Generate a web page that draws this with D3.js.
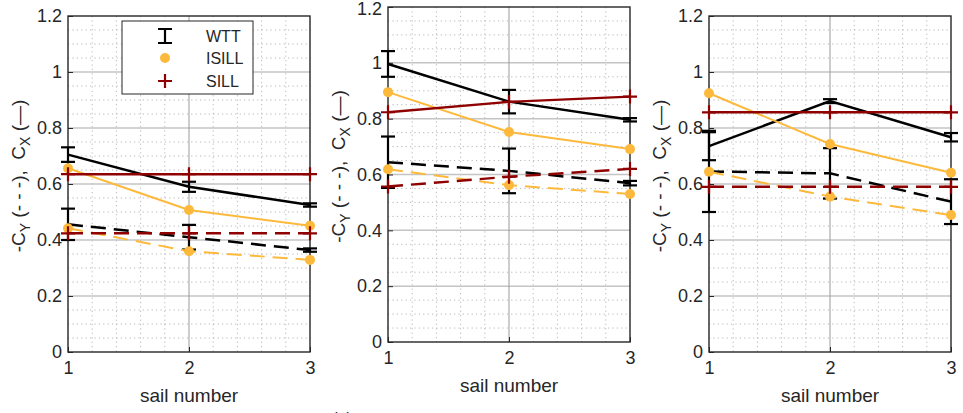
<!DOCTYPE html>
<html>
<head>
<meta charset="utf-8">
<script src="https://cdn.jsdelivr.net/npm/d3@7"></script>
<style>
  body { margin: 0; background: #fff; }
  text { font-family: "Liberation Sans", Arial, sans-serif; fill: #262626; }
</style>
</head>
<body>
<svg width="963" height="413"></svg>
<script>
// Data: sail numbers and coefficients for the three panels
const sails = [1, 2, 3];
const yTicks = [0, 0.2, 0.4, 0.6, 0.8, 1, 1.2];

const wttCx    = [[0.705, 0.590, 0.525], [0.996, 0.861, 0.796], [0.735, 0.896, 0.767]];
const wttCxErr = [[0.026, 0.018, 0.006], [0.046, 0.042, 0.006], [0.050, 0.007, 0.015]];
const wttCy    = [[0.456, 0.410, 0.364], [0.644, 0.613, 0.569], [0.645, 0.638, 0.537]];
const wttCyErr = [[0.056, 0.044, 0.006], [0.092, 0.080, 0.008], [0.145, 0.090, 0.080]];
const isillCx  = [[0.656, 0.507, 0.451], [0.895, 0.752, 0.691], [0.924, 0.743, 0.640]];
const isillCy  = [[0.442, 0.360, 0.329], [0.619, 0.562, 0.530], [0.644, 0.555, 0.489]];
const sillCx   = [[0.635, 0.635, 0.635], [0.823, 0.860, 0.879], [0.856, 0.856, 0.856]];
const sillCy   = [[0.424, 0.424, 0.424], [0.557, 0.592, 0.620], [0.590, 0.590, 0.590]];

const legendNames = ["WTT", "ISILL", "SILL"];

// Colours
const cWtt = "#000000", cIsill = "#fdb93c", cSill = "#8f0000";

// Panel boxes (pixels)
const panels = [
  {left: 68,  right: 310, top: 16, bottom: 352, labelX: 25},
  {left: 388, right: 630, top: 7,  bottom: 342, labelX: 345},
  {left: 709, right: 951, top: 16, bottom: 352, labelX: 666}
];

const svg = d3.select("svg");
const dash = "15,8";

panels.forEach(function(p, i) {
  const x = d3.scaleLinear().domain([1, 3]).range([p.left, p.right]);
  const y = d3.scaleLinear().domain([0, 1.2]).range([p.bottom, p.top]);
  const g = svg.append("g");

  // minor grid (dotted)
  g.append("g").selectAll("line")
    .data(d3.range(1.2, 3, 0.2).filter(v => Math.abs(v - 2) > 1e-6))
    .join("line")
      .attr("x1", d => x(d)).attr("x2", d => x(d))
      .attr("y1", p.top).attr("y2", p.bottom)
      .attr("stroke", "#b8b8b8").attr("stroke-dasharray", "1.2,3.2");
  g.append("g").selectAll("line")
    .data(d3.range(0.05, 1.2, 0.05).filter(v => Math.abs(v / 0.2 - Math.round(v / 0.2)) > 1e-6))
    .join("line")
      .attr("x1", p.left).attr("x2", p.right)
      .attr("y1", d => y(d)).attr("y2", d => y(d))
      .attr("stroke", "#b8b8b8").attr("stroke-dasharray", "1.2,3.2");

  // major grid
  g.append("g").selectAll("line")
    .data(yTicks.slice(1, -1))
    .join("line")
      .attr("x1", p.left).attr("x2", p.right)
      .attr("y1", d => y(d)).attr("y2", d => y(d))
      .attr("stroke", "#c4c4c4").attr("stroke-width", 1.5);
  g.append("line")
    .attr("x1", x(2)).attr("x2", x(2))
    .attr("y1", p.top).attr("y2", p.bottom)
    .attr("stroke", "#9a9a9a").attr("stroke-width", 1);

  // axes
  const yAxis = d3.axisLeft(y).tickValues(yTicks).tickSize(-5).tickPadding(6)
    .tickFormat(d => String(+d.toFixed(1)));
  const xAxis = d3.axisBottom(x).tickValues(sails).tickSize(-5).tickPadding(9)
    .tickFormat(d3.format("d"));
  const ya = g.append("g").attr("transform", `translate(${p.left},0)`).call(yAxis);
  const xa = g.append("g").attr("transform", `translate(0,${p.bottom})`).call(xAxis);
  [ya, xa].forEach(a => {
    a.select(".domain").remove();
    a.selectAll("line").attr("stroke", "#262626");
    a.selectAll("text").style("font-size", "18px").attr("fill", "#262626");
  });
  if (i === 1) ya.selectAll("text").filter(d => d === 1.2).attr("dy", "0.42em");
  // box
  g.append("rect")
    .attr("x", p.left).attr("y", p.top)
    .attr("width", p.right - p.left).attr("height", p.bottom - p.top)
    .attr("fill", "none").attr("stroke", "#262626").attr("stroke-width", 1.4);

  // axis labels
  g.append("text")
    .attr("x", (p.left + p.right) / 2).attr("y", p.bottom + 50)
    .attr("text-anchor", "middle").style("font-size", "19px")
    .text("sail number");
  const yl = g.append("text")
    .attr("transform", `translate(${p.labelX},${(p.top + p.bottom) / 2 - 8}) rotate(-90)`)
    .attr("text-anchor", "middle").style("font-size", "19px")
    .style("white-space", "pre");
  yl.append("tspan").text("-C");
  yl.append("tspan").attr("dy", 5).style("font-size", "14px").text("Y");
  yl.append("tspan").attr("dy", -5).text(" (- - -),  C");
  yl.append("tspan").attr("dy", 5).style("font-size", "14px").text("X");
  yl.append("tspan").attr("dy", -5).text(" (\u2014)");

  const line = d3.line().x((d, k) => x(sails[k])).y(d => y(d));

  // WTT with error bars
  [[wttCx[i], wttCxErr[i], null], [wttCy[i], wttCyErr[i], dash]].forEach(function(s) {
    const vals = s[0], errs = s[1];
    g.append("path").datum(vals).attr("d", line)
      .attr("fill", "none").attr("stroke", cWtt).attr("stroke-width", 2.5)
      .attr("stroke-dasharray", s[2]);
    const eb = g.append("g").selectAll("g").data(vals).join("g");
    eb.append("line")
      .attr("x1", (d, k) => x(sails[k])).attr("x2", (d, k) => x(sails[k]))
      .attr("y1", (d, k) => y(d - errs[k])).attr("y2", (d, k) => y(d + errs[k]))
      .attr("stroke", cWtt).attr("stroke-width", 2.2);
    [-1, 1].forEach(sg => {
      eb.append("line")
        .attr("x1", (d, k) => x(sails[k]) - 7).attr("x2", (d, k) => x(sails[k]) + 7)
        .attr("y1", (d, k) => y(d + sg * errs[k])).attr("y2", (d, k) => y(d + sg * errs[k]))
        .attr("stroke", cWtt).attr("stroke-width", 2.2);
    });
  });

  // ISILL
  [[isillCx[i], null], [isillCy[i], dash]].forEach(function(s) {
    g.append("path").datum(s[0]).attr("d", line)
      .attr("fill", "none").attr("stroke", cIsill).attr("stroke-width", 2)
      .attr("stroke-dasharray", s[1]);
    g.append("g").selectAll("circle").data(s[0]).join("circle")
      .attr("cx", (d, k) => x(sails[k])).attr("cy", d => y(d)).attr("r", 5)
      .attr("fill", cIsill);
  });

  // SILL
  [[sillCx[i], null], [sillCy[i], dash]].forEach(function(s) {
    g.append("path").datum(s[0]).attr("d", line)
      .attr("fill", "none").attr("stroke", cSill).attr("stroke-width", 2.4)
      .attr("stroke-dasharray", s[1]);
    g.append("g").selectAll("path").data(s[0]).join("path")
      .attr("d", (d, k) => {
        const cx = x(sails[k]), cy = y(d);
        return `M${cx - 7},${cy}H${cx + 7}M${cx},${cy - 7}V${cy + 7}`;
      })
      .attr("stroke", cSill).attr("stroke-width", 2.2);
  });

  // legend only in first panel
  if (i === 0) {
    const lg = g.append("g");
    lg.append("rect").attr("x", 122).attr("y", 21).attr("width", 131).attr("height", 73)
      .attr("fill", "#fff").attr("stroke", "#262626").attr("stroke-width", 1);
    const ly = [36, 58, 81];
    lg.append("path")
      .attr("d", `M158,${ly[0] - 7}H172M165,${ly[0] - 7}V${ly[0] + 7}M158,${ly[0] + 7}H172`)
      .attr("stroke", cWtt).attr("stroke-width", 2.2).attr("fill", "none");
    lg.append("circle").attr("cx", 165).attr("cy", ly[1]).attr("r", 5).attr("fill", cIsill);
    lg.append("path")
      .attr("d", `M158,${ly[2]}H172M165,${ly[2] - 7}V${ly[2] + 7}`)
      .attr("stroke", cSill).attr("stroke-width", 2.2);
    lg.selectAll("text").data(legendNames).join("text")
      .attr("x", 206).attr("y", (d, k) => ly[k] + 6)
      .style("font-size", "16px").text(d => d);
  }
});

// caption cut off at the bottom edge
svg.append("text").attr("x", 342).attr("y", 424).attr("text-anchor", "middle")
  .style("font-size", "16px").text("(a)");
</script>
</body>
</html>
